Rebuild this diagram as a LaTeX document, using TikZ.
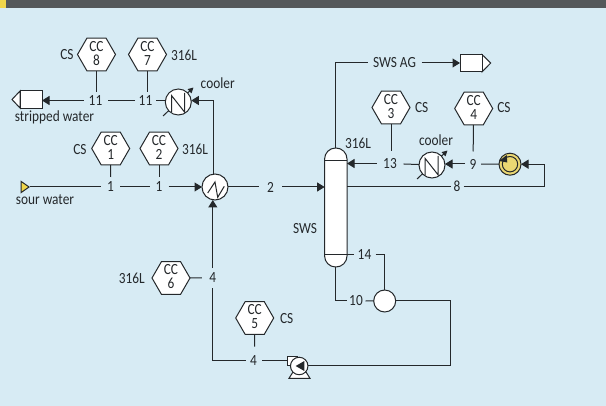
\documentclass[tikz,border=0pt]{standalone}
\usepackage{fontspec}
\setmainfont[FakeStretch=0.86]{Carlito}
\usetikzlibrary{arrows.meta}
\usetikzlibrary{shapes.geometric}
\usetikzlibrary{calc}
\newcommand{\cclab}[1]{\raisebox{-5pt}{\smash{\parbox[c]{20pt}{\centering CC\\#1}}}}
\definecolor{pfdbg}{HTML}{D7EBF4}
\definecolor{pfdhead}{HTML}{54585A}
\definecolor{pfdyel}{HTML}{F0D64B}
\definecolor{pfdpump}{HTML}{EBD873}
\definecolor{pfdink}{HTML}{24282B}
\tikzset{pfd/.style={
  x=1pt,
  y=-1pt,
  line width=1pt,
  draw=pfdink,
  text=pfdink,
  font=\fontsize{15.5}{14}\selectfont,
}}
\tikzset{eqp/.style={
  draw=pfdink,
  fill=white,
  inner sep=0pt,
  outer sep=0pt,
}}
\tikzset{hex/.style={
  eqp,
  shape=regular polygon,
  regular polygon sides=6,
  minimum size=38pt,
}}
\tikzset{rnd/.style={eqp,shape=circle,minimum size=26pt}}
\tikzset{lbl/.style={inner sep=2pt}}
\tikzset{strm/.style={inner sep=0pt,minimum width=22pt,minimum height=12pt}}
\tikzset{pipe/.style={draw=pfdink}}
\tikzset{flow/.style={pipe,-{Triangle[length=7.5pt,width=9pt]}}}
\tikzset{vent/.style={draw=pfdink,-{Triangle[length=5.5pt,width=5.5pt]}}}

\begin{document}
\begin{tikzpicture}[pfd]

    % Background
    \useasboundingbox (0,0) rectangle (606,406);
    \fill[pfdbg] (0,0) rectangle (606,406);
    \fill[pfdhead] (0,0) rectangle (606,8);
    \fill[pfdyel] (0,0) rectangle (6,8);

    %% Equipment

    % Column
    \node[eqp,rounded corners=11pt,minimum width=22.4pt,minimum height=119pt] (sws) at (335.8,207.5) {};
    \coordinate (swstop) at (335.8,161);
    \coordinate (swsbot) at (335.8,255);
    \draw (swstop -| sws.west) -- (swstop -| sws.east);
    \draw (swsbot -| sws.west) -- (swsbot -| sws.east);
    \node[eqp,minimum size=22pt,shape=circle] (drum) at (384.7,301) {};

    % Exchangers
    \node[rnd] (hx) at (215,187) {};
    \draw (207.7,193) -- (215,182) -- (217.7,197.3) -- (224.3,186.3);
    \draw[vent] (163,116) -- (193.5,87.5);
    \node[rnd] (clra) at (178.3,102) {};
    \draw (171.5,112) -- (171.5,95.5) -- (184.5,112) -- (184.5,93);
    \draw[vent] (417,179) -- (447.5,150.5);
    \node[rnd] (clrb) at (432,165) {};
    \draw (425.2,175) -- (425.2,158.5) -- (438.2,175) -- (438.2,156);

    % Pumps
    \node[eqp,shape=circle,minimum size=22pt,fill=pfdpump] (cpump) at (510,164.2) {};
    \draw (cpump) circle[radius=7.7];
    \fill[pfdink] (499.3,161) -- (506.7,155) -- (507.3,162.5) -- cycle;
    \draw[fill=white] (289,378.3) -- (293,372) -- (306,372) -- (310,378.3) -- cycle;
    \node[eqp,minimum width=10pt,minimum height=9pt] (pumpout) at (292.3,361.2) {};
    \node[eqp,shape=circle,minimum size=17.5pt] (pump) at (299.2,366) {};
    \fill[pfdink] (295.7,366) -- (304.3,361) -- (304.3,371) -- cycle;

    % Off-page tags
    \draw[fill=white] (20,91) -- (12,99.5) -- (20,108) -- cycle;
    \node[eqp,minimum width=22pt,minimum height=17.5pt] (tagsw) at (31,99.5) {};
    \draw[fill=white] (482,54.5) -- (490.7,63) -- (482,72) -- cycle;
    \node[eqp,minimum width=22pt,minimum height=17.5pt] (tagag) at (471,63) {};
    \node[draw=pfdink,fill=pfdyel,shape=isosceles triangle,isosceles triangle apex angle=70,inner sep=0pt,minimum height=8pt,minimum width=11pt] (tagsour) at (24,187) {};

    %% Corrosion circuits

    \node[hex] (cca) at (110.7,148.5) {\cclab{1}};
    \node[hex] (ccb) at (159,148.5) {\cclab{2}};
    \node[hex] (ccc) at (391,107.5) {\cclab{3}};
    \node[hex] (ccd) at (473.7,108.5) {\cclab{4}};
    \node[hex] (cce) at (254.7,318) {\cclab{5}};
    \node[hex] (ccf) at (171,278) {\cclab{6}};
    \node[hex] (ccg) at (147.5,54.5) {\cclab{7}};
    \node[hex] (cch) at (96.5,54.5) {\cclab{8}};

    \node[lbl] at (80,150) {CS};
    \node[lbl] at (195,149) {316L};
    \node[lbl] at (421.7,108) {CS};
    \node[lbl] at (504,108) {CS};
    \node[lbl] at (286.7,319) {CS};
    \node[lbl] at (131.7,278) {316L};
    \node[lbl] at (184,55) {316L};
    \node[lbl] at (67,55) {CS};
    \node[lbl] at (358,143) {316L};
    \node[lbl] at (305,229) {SWS};
    \node[lbl] at (217.7,83) {cooler};
    \node[lbl] at (436,140) {cooler};
    \node[lbl] at (54.5,117) {stripped water};
    \node[lbl] at (45,200) {sour water};

    %% Stream numbers

    \node[strm,minimum width=18pt,minimum height=19pt] (sa) at (110.5,187) {1};
    \node[strm,minimum width=18pt,minimum height=18pt] (sb) at (159,187) {1};
    \node[strm,minimum width=22pt] (sc) at (270.5,187) {2};
    \node[strm,minimum width=21pt,minimum height=18.5pt] (sd) at (212.8,278) {4};
    \node[strm,minimum width=15pt,minimum height=27pt] (se) at (253.5,360.7) {4};
    \node[strm,minimum width=15pt,minimum height=24pt] (sf) at (473,164) {9};
    \node[strm,minimum width=12pt] (sg) at (457,186.7) {8};
    \node[strm,minimum width=18pt] (sh) at (356,300.7) {10};
    \node[strm,minimum width=23pt,minimum height=15pt] (si) at (95.5,100.5) {11};
    \node[strm,minimum width=20pt,minimum height=15pt] (sj) at (145.5,100.5) {11};
    \node[strm,minimum width=26pt,minimum height=23pt] (sk) at (390,163.5) {13};
    \node[strm,minimum width=21pt] (sl) at (364.5,255) {14};
    \node[strm,minimum width=53pt] (sm) at (394.5,63) {SWS AG};

    %% Piping

    % Feed
    \draw[pipe] (tagsour) -- (sa);
    \draw[pipe] (sa) -- (sb);
    \draw[flow] (sb) -- (hx);
    \draw[pipe] (hx) -- (sc);
    \draw[flow] (sc) -- (sc -| sws.west);

    % Overheads
    \draw[pipe] (sws.north) |- (sm);
    \draw[flow] (sm) -- (tagag);

    % Reflux loop
    \draw[flow] (sk) -- (sk -| sws.east);
    \draw[pipe] (clrb) -- (sk);
    \draw[flow] (sf) -- (sf -| clrb.east);
    \draw[pipe] (cpump) -- (sf);
    \coordinate (loop) at (544,175);
    \draw[flow] (sg) -- (sg -| loop) -- (cpump -| loop) -- (cpump.east);
    \draw[pipe] (sg) -- (sg -| sws.east);

    % Bottoms
    \draw[pipe] (sws.south) |- (sh);
    \draw[pipe] (sh) -- (drum);
    \draw[pipe] (sl) -- (sl -| sws.east);
    \draw[pipe] (sl) -| (drum);
    \coordinate (ret) at (450.3,330);
    \draw[pipe] (drum) -| (ret) |- (pump);
    \draw[pipe] (se -| pumpout.west) -- (se);
    \draw[pipe] (se) -| (sd);
    \draw[flow] (sd) -- (sd |- hx.south);

    % Stripped water
    \coordinate (ovh) at (213,100.5);
    \draw[flow] (ovh |- hx.north) -- (ovh) -- (ovh -| clra.east);
    \draw[pipe] (sj) -- (sj -| clra.west);
    \draw[pipe] (sj) -- (si);
    \draw[flow] (si) -- (si -| tagsw.east);

    % Circuit stubs
    \draw[pipe] (cca) -- (sa);
    \draw[pipe] (ccb) -- (sb);
    \draw[pipe] (ccc) -- (ccc |- sk.north);
    \draw[pipe] (ccd) -- (sf);
    \draw[pipe] (cce) -- (cce |- se.north);
    \draw[pipe] (ccf) -- (ccf -| sd.west);
    \draw[pipe] (ccg) -- (ccg |- sj.north);
    \draw[pipe] (cch) -- (cch |- si.north);

\end{tikzpicture}
\end{document}
